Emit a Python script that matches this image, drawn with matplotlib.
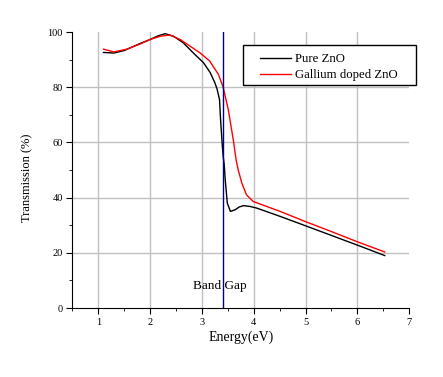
import matplotlib
matplotlib.use('Agg')
from matplotlib import pyplot as plt
from matplotlib.ticker import MultipleLocator
from matplotlib.legend_handler import HandlerLine2D
from matplotlib.patches import Rectangle

plt.rcParams['font.family'] = ['Liberation Serif', 'DejaVu Serif']

# Pure ZnO transmission spectrum
pure_x = [1.10, 1.30, 1.50, 1.80, 2.00, 2.15, 2.29, 2.45, 2.64, 2.83, 3.03,
          3.16, 3.25, 3.29, 3.34, 3.36, 3.39, 3.41, 3.43, 3.45, 3.49, 3.55,
          3.64, 3.72, 3.80, 3.93, 4.06, 4.51, 5.00, 5.50, 6.00, 6.53]
pure_y = [92.6, 92.4, 93.3, 95.8, 97.3, 98.6, 99.4, 98.5, 96.1, 92.5, 88.9,
          85.3, 81.6, 79.5, 75.5, 68.2, 59.8, 55.0, 52.0, 46.5, 38.0, 35.0,
          35.6, 36.6, 37.1, 36.8, 36.2, 33.2, 29.8, 26.3, 22.8, 19.0]

# Gallium doped ZnO transmission spectrum
ga_x = [1.10, 1.30, 1.55, 1.80, 2.00, 2.20, 2.38, 2.58, 2.77, 2.96, 3.15,
        3.32, 3.41, 3.51, 3.61, 3.66, 3.70, 3.77, 3.86, 3.99, 4.25, 4.51,
        5.00, 5.50, 6.00, 6.53]
ga_y = [93.8, 92.8, 93.8, 95.6, 97.3, 98.5, 98.9, 97.3, 94.9, 92.5, 89.5,
        84.6, 80.0, 71.8, 60.4, 53.7, 50.1, 45.3, 41.0, 38.6, 36.8, 35.0,
        31.3, 27.7, 24.0, 20.3]

band_gap = 3.41
x_grid = [1, 2, 3, 4, 5, 6]
y_grid = [20, 40, 60, 80]

fig = plt.figure(figsize=(4.43, 3.77), dpi=100)
ax = fig.add_axes([0.1635, 0.183, 0.7600, 0.732])

# grid lines (not at the axes edges)
for gx in x_grid:
    ax.axvline(gx, color='#c0c0c0', lw=1, zorder=0)
for gy in y_grid:
    ax.axhline(gy, color='#c0c0c0', lw=1, zorder=0)

ax.plot(pure_x, pure_y, color='black', lw=1, label='Pure ZnO')
ax.plot(ga_x, ga_y, color='red', lw=1, label='Gallium doped ZnO')
ax.axvline(band_gap, color='#000080', lw=1)
ax.text(3.34, 8, 'Band Gap', ha='center', va='center', fontsize=9.5)

ax.set_xlim(0.5, 7)
ax.set_ylim(0, 100)
ax.xaxis.set_major_locator(MultipleLocator(1))
ax.xaxis.set_minor_locator(MultipleLocator(0.5))
ax.yaxis.set_major_locator(MultipleLocator(20))
ax.yaxis.set_minor_locator(MultipleLocator(10))
ax.tick_params(which='major', direction='out', length=4, labelsize=7.5, pad=3)
ax.tick_params(which='minor', direction='out', length=2.2)
ax.spines['top'].set_visible(False)
ax.spines['right'].set_visible(False)

ax.set_xlabel('Energy(eV)', fontsize=10, labelpad=3)
ax.set_ylabel('Transmission (%)', fontsize=9)
ax.yaxis.set_label_coords(-0.115, 0.47)

# legend without its own frame; the box is drawn separately (wider padding)
leg = ax.legend(loc='upper left', bbox_to_anchor=(0.506, 0.945), fontsize=9.2,
                frameon=False, handlelength=3.3, handletextpad=0.3,
                borderaxespad=0, borderpad=0.45, labelspacing=0.32,
                handler_map={plt.Line2D: HandlerLine2D(xpad=0.9)})
leg.set_zorder(6)
box = Rectangle((0.506, 0.807), 0.5145, 0.147, transform=ax.transAxes,
                facecolor='white', edgecolor='black', lw=1, clip_on=False,
                zorder=5)
ax.add_patch(box)

plt.savefig('out.png', dpi=100)
